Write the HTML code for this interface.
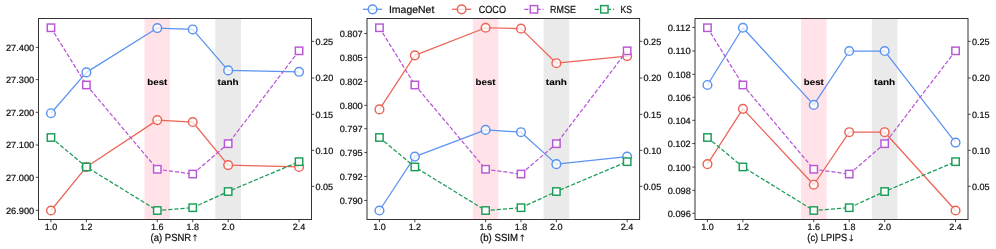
<!DOCTYPE html><html><head><meta charset="utf-8"><style>html,body{margin:0;padding:0;background:#fff;}svg{display:block;will-change:transform;}text{font-family:"Liberation Sans",sans-serif;text-rendering:geometricPrecision;}</style></head><body>
<svg width="996" height="249" viewBox="0 0 996 249">
<rect width="996" height="249" fill="#fff"/>
<rect x="144.48" y="18.5" width="25.6" height="201" fill="#ffe3e8"/>
<rect x="215.36" y="18.5" width="25.6" height="201" fill="#eaeaea"/>
<text x="147.27" y="85.2" font-size="8.71" font-weight="bold" textLength="20.04" lengthAdjust="spacingAndGlyphs" fill="#000" stroke="#000" stroke-width="0.08">best</text>
<text x="217.62" y="85.2" font-size="8.71" font-weight="bold" textLength="21.05" lengthAdjust="spacingAndGlyphs" fill="#000" stroke="#000" stroke-width="0.08">tanh</text>
<polyline points="50.95,113.23 86.39,72.39 157.28,28.05 192.72,29.45 228.16,70.39 299.05,71.79" fill="none" stroke="#5b93f0" stroke-width="1.25" stroke-linejoin="round"/>
<circle cx="50.95" cy="113.23" r="4.35" fill="#fff" fill-opacity="0.75" stroke="#5b93f0" stroke-width="1.45"/>
<circle cx="86.39" cy="72.39" r="4.35" fill="#fff" fill-opacity="0.75" stroke="#5b93f0" stroke-width="1.45"/>
<circle cx="157.28" cy="28.05" r="4.35" fill="#fff" fill-opacity="0.75" stroke="#5b93f0" stroke-width="1.45"/>
<circle cx="192.72" cy="29.45" r="4.35" fill="#fff" fill-opacity="0.75" stroke="#5b93f0" stroke-width="1.45"/>
<circle cx="228.16" cy="70.39" r="4.35" fill="#fff" fill-opacity="0.75" stroke="#5b93f0" stroke-width="1.45"/>
<circle cx="299.05" cy="71.79" r="4.35" fill="#fff" fill-opacity="0.75" stroke="#5b93f0" stroke-width="1.45"/>
<polyline points="50.95,210.5 86.39,166.96 157.28,120.12 192.72,122.02 228.16,165.06 299.05,166.96" fill="none" stroke="#ed6457" stroke-width="1.25" stroke-linejoin="round"/>
<circle cx="50.95" cy="210.5" r="4.35" fill="#fff" fill-opacity="0.75" stroke="#ed6457" stroke-width="1.45"/>
<circle cx="86.39" cy="166.96" r="4.35" fill="#fff" fill-opacity="0.75" stroke="#ed6457" stroke-width="1.45"/>
<circle cx="157.28" cy="120.12" r="4.35" fill="#fff" fill-opacity="0.75" stroke="#ed6457" stroke-width="1.45"/>
<circle cx="192.72" cy="122.02" r="4.35" fill="#fff" fill-opacity="0.75" stroke="#ed6457" stroke-width="1.45"/>
<circle cx="228.16" cy="165.06" r="4.35" fill="#fff" fill-opacity="0.75" stroke="#ed6457" stroke-width="1.45"/>
<circle cx="299.05" cy="166.96" r="4.35" fill="#fff" fill-opacity="0.75" stroke="#ed6457" stroke-width="1.45"/>
<polyline points="50.95,27.75 86.39,84.97 157.28,169.26 192.72,174.05 228.16,143.69 299.05,50.82" fill="none" stroke="#b856d6" stroke-width="1.25" stroke-dasharray="4.2 1.9"/>
<rect x="47.25" y="24.05" width="7.4" height="7.4" fill="#fff" fill-opacity="0.92" stroke="#b856d6" stroke-width="1.45"/>
<rect x="82.69" y="81.27" width="7.4" height="7.4" fill="#fff" fill-opacity="0.92" stroke="#b856d6" stroke-width="1.45"/>
<rect x="153.58" y="165.56" width="7.4" height="7.4" fill="#fff" fill-opacity="0.92" stroke="#b856d6" stroke-width="1.45"/>
<rect x="189.02" y="170.35" width="7.4" height="7.4" fill="#fff" fill-opacity="0.92" stroke="#b856d6" stroke-width="1.45"/>
<rect x="224.46" y="139.99" width="7.4" height="7.4" fill="#fff" fill-opacity="0.92" stroke="#b856d6" stroke-width="1.45"/>
<rect x="295.35" y="47.12" width="7.4" height="7.4" fill="#fff" fill-opacity="0.92" stroke="#b856d6" stroke-width="1.45"/>
<polyline points="50.95,137.5 86.39,166.96 157.28,210.5 192.72,207.7 228.16,191.53 299.05,161.67" fill="none" stroke="#1c9d57" stroke-width="1.25" stroke-dasharray="4.2 1.9"/>
<rect x="47.25" y="133.8" width="7.4" height="7.4" fill="#fff" fill-opacity="0.92" stroke="#1c9d57" stroke-width="1.45"/>
<rect x="82.69" y="163.26" width="7.4" height="7.4" fill="#fff" fill-opacity="0.92" stroke="#1c9d57" stroke-width="1.45"/>
<rect x="153.58" y="206.8" width="7.4" height="7.4" fill="#fff" fill-opacity="0.92" stroke="#1c9d57" stroke-width="1.45"/>
<rect x="189.02" y="204" width="7.4" height="7.4" fill="#fff" fill-opacity="0.92" stroke="#1c9d57" stroke-width="1.45"/>
<rect x="224.46" y="187.83" width="7.4" height="7.4" fill="#fff" fill-opacity="0.92" stroke="#1c9d57" stroke-width="1.45"/>
<rect x="295.35" y="157.97" width="7.4" height="7.4" fill="#fff" fill-opacity="0.92" stroke="#1c9d57" stroke-width="1.45"/>
<rect x="38.5" y="18.5" width="273" height="201" fill="none" stroke="#333" stroke-width="1"/>
<line x1="35.8" y1="47.34" x2="38.5" y2="47.34" stroke="#333" stroke-width="0.9"/>
<text x="5.93" y="50.79" font-size="9.11" textLength="28.32" lengthAdjust="spacingAndGlyphs" fill="#111" stroke="#111" stroke-width="0.22">27.400</text>
<line x1="35.8" y1="79.6" x2="38.5" y2="79.6" stroke="#333" stroke-width="0.9"/>
<text x="5.93" y="83.05" font-size="9.11" textLength="28.32" lengthAdjust="spacingAndGlyphs" fill="#111" stroke="#111" stroke-width="0.22">27.300</text>
<line x1="35.8" y1="112.34" x2="38.5" y2="112.34" stroke="#333" stroke-width="0.9"/>
<text x="5.93" y="115.79" font-size="9.11" textLength="28.32" lengthAdjust="spacingAndGlyphs" fill="#111" stroke="#111" stroke-width="0.22">27.200</text>
<line x1="35.8" y1="145" x2="38.5" y2="145" stroke="#333" stroke-width="0.9"/>
<text x="5.93" y="148.45" font-size="9.11" textLength="28.32" lengthAdjust="spacingAndGlyphs" fill="#111" stroke="#111" stroke-width="0.22">27.100</text>
<line x1="35.8" y1="177.34" x2="38.5" y2="177.34" stroke="#333" stroke-width="0.9"/>
<text x="5.93" y="180.79" font-size="9.11" textLength="28.32" lengthAdjust="spacingAndGlyphs" fill="#111" stroke="#111" stroke-width="0.22">27.000</text>
<line x1="35.8" y1="210.34" x2="38.5" y2="210.34" stroke="#333" stroke-width="0.9"/>
<text x="5.93" y="213.79" font-size="9.11" textLength="28.32" lengthAdjust="spacingAndGlyphs" fill="#111" stroke="#111" stroke-width="0.22">26.900</text>
<line x1="311.5" y1="41.34" x2="314.2" y2="41.34" stroke="#333" stroke-width="0.9"/>
<text x="315.44" y="44.79" font-size="9.11" textLength="17.64" lengthAdjust="spacingAndGlyphs" fill="#111" stroke="#111" stroke-width="0.22">0.25</text>
<line x1="311.5" y1="78" x2="314.2" y2="78" stroke="#333" stroke-width="0.9"/>
<text x="315.44" y="81.45" font-size="9.11" textLength="17.78" lengthAdjust="spacingAndGlyphs" fill="#111" stroke="#111" stroke-width="0.22">0.20</text>
<line x1="311.5" y1="114.34" x2="314.2" y2="114.34" stroke="#333" stroke-width="0.9"/>
<text x="315.44" y="117.79" font-size="9.11" textLength="17.64" lengthAdjust="spacingAndGlyphs" fill="#111" stroke="#111" stroke-width="0.22">0.15</text>
<line x1="311.5" y1="150.34" x2="314.2" y2="150.34" stroke="#333" stroke-width="0.9"/>
<text x="315.44" y="153.79" font-size="9.11" textLength="17.78" lengthAdjust="spacingAndGlyphs" fill="#111" stroke="#111" stroke-width="0.22">0.10</text>
<line x1="311.5" y1="186.34" x2="314.2" y2="186.34" stroke="#333" stroke-width="0.9"/>
<text x="315.44" y="189.79" font-size="9.11" textLength="17.64" lengthAdjust="spacingAndGlyphs" fill="#111" stroke="#111" stroke-width="0.22">0.05</text>
<line x1="50.95" y1="219.5" x2="50.95" y2="222.2" stroke="#333" stroke-width="0.9"/>
<text x="44.73" y="229.9" font-size="9.11" textLength="12.46" lengthAdjust="spacingAndGlyphs" fill="#111" stroke="#111" stroke-width="0.22">1.0</text>
<line x1="86.39" y1="219.5" x2="86.39" y2="222.2" stroke="#333" stroke-width="0.9"/>
<text x="80.19" y="229.9" font-size="9.11" textLength="12.27" lengthAdjust="spacingAndGlyphs" fill="#111" stroke="#111" stroke-width="0.22">1.2</text>
<line x1="157.28" y1="219.5" x2="157.28" y2="222.2" stroke="#333" stroke-width="0.9"/>
<text x="151.06" y="229.9" font-size="9.11" textLength="12.54" lengthAdjust="spacingAndGlyphs" fill="#111" stroke="#111" stroke-width="0.22">1.6</text>
<line x1="192.72" y1="219.5" x2="192.72" y2="222.2" stroke="#333" stroke-width="0.9"/>
<text x="186.5" y="229.9" font-size="9.11" textLength="12.49" lengthAdjust="spacingAndGlyphs" fill="#111" stroke="#111" stroke-width="0.22">1.8</text>
<line x1="228.16" y1="219.5" x2="228.16" y2="222.2" stroke="#333" stroke-width="0.9"/>
<text x="221.86" y="229.9" font-size="9.11" textLength="12.56" lengthAdjust="spacingAndGlyphs" fill="#111" stroke="#111" stroke-width="0.22">2.0</text>
<line x1="299.05" y1="219.5" x2="299.05" y2="222.2" stroke="#333" stroke-width="0.9"/>
<text x="292.75" y="229.9" font-size="9.11" textLength="12.55" lengthAdjust="spacingAndGlyphs" fill="#111" stroke="#111" stroke-width="0.22">2.4</text>
<text x="150.59" y="241.3" font-size="10.27" textLength="40.61" lengthAdjust="spacingAndGlyphs" fill="#111" stroke="#111" stroke-width="0.22">(a) PSNR</text>
<polygon points="194.81,234.49 195.22,234.49 197,236.27 196.46,236.81 195.39,235.75 195.39,241.3 194.63,241.3 194.63,235.75 193.57,236.81 193.03,236.27" fill="#111"/>
<rect x="472.81" y="18.5" width="25.6" height="201" fill="#ffe3e8"/>
<rect x="543.58" y="18.5" width="25.6" height="201" fill="#eaeaea"/>
<text x="475.59" y="85.2" font-size="8.71" font-weight="bold" textLength="20.04" lengthAdjust="spacingAndGlyphs" fill="#000" stroke="#000" stroke-width="0.08">best</text>
<text x="545.83" y="85.2" font-size="8.71" font-weight="bold" textLength="21.05" lengthAdjust="spacingAndGlyphs" fill="#000" stroke="#000" stroke-width="0.08">tanh</text>
<polyline points="379.45,210.5 414.84,156.57 485.61,129.91 520.99,132.21 556.38,164.16 627.15,156.57" fill="none" stroke="#5b93f0" stroke-width="1.25" stroke-linejoin="round"/>
<circle cx="379.45" cy="210.5" r="4.35" fill="#fff" fill-opacity="0.75" stroke="#5b93f0" stroke-width="1.45"/>
<circle cx="414.84" cy="156.57" r="4.35" fill="#fff" fill-opacity="0.75" stroke="#5b93f0" stroke-width="1.45"/>
<circle cx="485.61" cy="129.91" r="4.35" fill="#fff" fill-opacity="0.75" stroke="#5b93f0" stroke-width="1.45"/>
<circle cx="520.99" cy="132.21" r="4.35" fill="#fff" fill-opacity="0.75" stroke="#5b93f0" stroke-width="1.45"/>
<circle cx="556.38" cy="164.16" r="4.35" fill="#fff" fill-opacity="0.75" stroke="#5b93f0" stroke-width="1.45"/>
<circle cx="627.15" cy="156.57" r="4.35" fill="#fff" fill-opacity="0.75" stroke="#5b93f0" stroke-width="1.45"/>
<polyline points="379.45,109.44 414.84,55.31 485.61,27.75 520.99,28.65 556.38,63.2 627.15,56.11" fill="none" stroke="#ed6457" stroke-width="1.25" stroke-linejoin="round"/>
<circle cx="379.45" cy="109.44" r="4.35" fill="#fff" fill-opacity="0.75" stroke="#ed6457" stroke-width="1.45"/>
<circle cx="414.84" cy="55.31" r="4.35" fill="#fff" fill-opacity="0.75" stroke="#ed6457" stroke-width="1.45"/>
<circle cx="485.61" cy="27.75" r="4.35" fill="#fff" fill-opacity="0.75" stroke="#ed6457" stroke-width="1.45"/>
<circle cx="520.99" cy="28.65" r="4.35" fill="#fff" fill-opacity="0.75" stroke="#ed6457" stroke-width="1.45"/>
<circle cx="556.38" cy="63.2" r="4.35" fill="#fff" fill-opacity="0.75" stroke="#ed6457" stroke-width="1.45"/>
<circle cx="627.15" cy="56.11" r="4.35" fill="#fff" fill-opacity="0.75" stroke="#ed6457" stroke-width="1.45"/>
<polyline points="379.45,27.75 414.84,84.97 485.61,169.26 520.99,174.05 556.38,143.69 627.15,50.82" fill="none" stroke="#b856d6" stroke-width="1.25" stroke-dasharray="4.2 1.9"/>
<rect x="375.75" y="24.05" width="7.4" height="7.4" fill="#fff" fill-opacity="0.92" stroke="#b856d6" stroke-width="1.45"/>
<rect x="411.14" y="81.27" width="7.4" height="7.4" fill="#fff" fill-opacity="0.92" stroke="#b856d6" stroke-width="1.45"/>
<rect x="481.91" y="165.56" width="7.4" height="7.4" fill="#fff" fill-opacity="0.92" stroke="#b856d6" stroke-width="1.45"/>
<rect x="517.29" y="170.35" width="7.4" height="7.4" fill="#fff" fill-opacity="0.92" stroke="#b856d6" stroke-width="1.45"/>
<rect x="552.68" y="139.99" width="7.4" height="7.4" fill="#fff" fill-opacity="0.92" stroke="#b856d6" stroke-width="1.45"/>
<rect x="623.45" y="47.12" width="7.4" height="7.4" fill="#fff" fill-opacity="0.92" stroke="#b856d6" stroke-width="1.45"/>
<polyline points="379.45,137.5 414.84,166.96 485.61,210.5 520.99,207.7 556.38,191.53 627.15,161.67" fill="none" stroke="#1c9d57" stroke-width="1.25" stroke-dasharray="4.2 1.9"/>
<rect x="375.75" y="133.8" width="7.4" height="7.4" fill="#fff" fill-opacity="0.92" stroke="#1c9d57" stroke-width="1.45"/>
<rect x="411.14" y="163.26" width="7.4" height="7.4" fill="#fff" fill-opacity="0.92" stroke="#1c9d57" stroke-width="1.45"/>
<rect x="481.91" y="206.8" width="7.4" height="7.4" fill="#fff" fill-opacity="0.92" stroke="#1c9d57" stroke-width="1.45"/>
<rect x="517.29" y="204" width="7.4" height="7.4" fill="#fff" fill-opacity="0.92" stroke="#1c9d57" stroke-width="1.45"/>
<rect x="552.68" y="187.83" width="7.4" height="7.4" fill="#fff" fill-opacity="0.92" stroke="#1c9d57" stroke-width="1.45"/>
<rect x="623.45" y="157.97" width="7.4" height="7.4" fill="#fff" fill-opacity="0.92" stroke="#1c9d57" stroke-width="1.45"/>
<rect x="367" y="18.5" width="272.6" height="201" fill="none" stroke="#333" stroke-width="1"/>
<line x1="364.3" y1="33.47" x2="367" y2="33.47" stroke="#333" stroke-width="0.9"/>
<text x="339.71" y="36.92" font-size="9.11" textLength="22.99" lengthAdjust="spacingAndGlyphs" fill="#111" stroke="#111" stroke-width="0.22">0.807</text>
<line x1="364.3" y1="57.44" x2="367" y2="57.44" stroke="#333" stroke-width="0.9"/>
<text x="339.71" y="60.89" font-size="9.11" textLength="22.89" lengthAdjust="spacingAndGlyphs" fill="#111" stroke="#111" stroke-width="0.22">0.805</text>
<line x1="364.3" y1="81.44" x2="367" y2="81.44" stroke="#333" stroke-width="0.9"/>
<text x="339.71" y="84.89" font-size="9.11" textLength="22.86" lengthAdjust="spacingAndGlyphs" fill="#111" stroke="#111" stroke-width="0.22">0.802</text>
<line x1="364.3" y1="105.34" x2="367" y2="105.34" stroke="#333" stroke-width="0.9"/>
<text x="339.71" y="108.79" font-size="9.11" textLength="23.04" lengthAdjust="spacingAndGlyphs" fill="#111" stroke="#111" stroke-width="0.22">0.800</text>
<line x1="364.3" y1="128.7" x2="367" y2="128.7" stroke="#333" stroke-width="0.9"/>
<text x="339.71" y="132.15" font-size="9.11" textLength="22.99" lengthAdjust="spacingAndGlyphs" fill="#111" stroke="#111" stroke-width="0.22">0.797</text>
<line x1="364.3" y1="152.47" x2="367" y2="152.47" stroke="#333" stroke-width="0.9"/>
<text x="339.71" y="155.92" font-size="9.11" textLength="22.89" lengthAdjust="spacingAndGlyphs" fill="#111" stroke="#111" stroke-width="0.22">0.795</text>
<line x1="364.3" y1="176.44" x2="367" y2="176.44" stroke="#333" stroke-width="0.9"/>
<text x="339.71" y="179.89" font-size="9.11" textLength="22.86" lengthAdjust="spacingAndGlyphs" fill="#111" stroke="#111" stroke-width="0.22">0.792</text>
<line x1="364.3" y1="200.44" x2="367" y2="200.44" stroke="#333" stroke-width="0.9"/>
<text x="339.71" y="203.89" font-size="9.11" textLength="23.04" lengthAdjust="spacingAndGlyphs" fill="#111" stroke="#111" stroke-width="0.22">0.790</text>
<line x1="639.6" y1="41.34" x2="642.3" y2="41.34" stroke="#333" stroke-width="0.9"/>
<text x="643.54" y="44.79" font-size="9.11" textLength="17.64" lengthAdjust="spacingAndGlyphs" fill="#111" stroke="#111" stroke-width="0.22">0.25</text>
<line x1="639.6" y1="78" x2="642.3" y2="78" stroke="#333" stroke-width="0.9"/>
<text x="643.54" y="81.45" font-size="9.11" textLength="17.78" lengthAdjust="spacingAndGlyphs" fill="#111" stroke="#111" stroke-width="0.22">0.20</text>
<line x1="639.6" y1="114.34" x2="642.3" y2="114.34" stroke="#333" stroke-width="0.9"/>
<text x="643.54" y="117.79" font-size="9.11" textLength="17.64" lengthAdjust="spacingAndGlyphs" fill="#111" stroke="#111" stroke-width="0.22">0.15</text>
<line x1="639.6" y1="150.34" x2="642.3" y2="150.34" stroke="#333" stroke-width="0.9"/>
<text x="643.54" y="153.79" font-size="9.11" textLength="17.78" lengthAdjust="spacingAndGlyphs" fill="#111" stroke="#111" stroke-width="0.22">0.10</text>
<line x1="639.6" y1="186.34" x2="642.3" y2="186.34" stroke="#333" stroke-width="0.9"/>
<text x="643.54" y="189.79" font-size="9.11" textLength="17.64" lengthAdjust="spacingAndGlyphs" fill="#111" stroke="#111" stroke-width="0.22">0.05</text>
<line x1="379.45" y1="219.5" x2="379.45" y2="222.2" stroke="#333" stroke-width="0.9"/>
<text x="373.23" y="229.9" font-size="9.11" textLength="12.46" lengthAdjust="spacingAndGlyphs" fill="#111" stroke="#111" stroke-width="0.22">1.0</text>
<line x1="414.84" y1="219.5" x2="414.84" y2="222.2" stroke="#333" stroke-width="0.9"/>
<text x="408.63" y="229.9" font-size="9.11" textLength="12.27" lengthAdjust="spacingAndGlyphs" fill="#111" stroke="#111" stroke-width="0.22">1.2</text>
<line x1="485.61" y1="219.5" x2="485.61" y2="222.2" stroke="#333" stroke-width="0.9"/>
<text x="479.39" y="229.9" font-size="9.11" textLength="12.54" lengthAdjust="spacingAndGlyphs" fill="#111" stroke="#111" stroke-width="0.22">1.6</text>
<line x1="520.99" y1="219.5" x2="520.99" y2="222.2" stroke="#333" stroke-width="0.9"/>
<text x="514.78" y="229.9" font-size="9.11" textLength="12.49" lengthAdjust="spacingAndGlyphs" fill="#111" stroke="#111" stroke-width="0.22">1.8</text>
<line x1="556.38" y1="219.5" x2="556.38" y2="222.2" stroke="#333" stroke-width="0.9"/>
<text x="550.07" y="229.9" font-size="9.11" textLength="12.56" lengthAdjust="spacingAndGlyphs" fill="#111" stroke="#111" stroke-width="0.22">2.0</text>
<line x1="627.15" y1="219.5" x2="627.15" y2="222.2" stroke="#333" stroke-width="0.9"/>
<text x="620.85" y="229.9" font-size="9.11" textLength="12.55" lengthAdjust="spacingAndGlyphs" fill="#111" stroke="#111" stroke-width="0.22">2.4</text>
<text x="479.95" y="241.3" font-size="10.27" textLength="38.17" lengthAdjust="spacingAndGlyphs" fill="#111" stroke="#111" stroke-width="0.22">(b) SSIM</text>
<polygon points="522.03,234.49 522.44,234.49 524.22,236.27 523.68,236.81 522.62,235.75 522.62,241.3 521.85,241.3 521.85,235.75 520.79,236.81 520.25,236.27" fill="#111"/>
<rect x="800.98" y="18.5" width="25.6" height="201" fill="#ffe3e8"/>
<rect x="871.86" y="18.5" width="25.6" height="201" fill="#eaeaea"/>
<text x="803.77" y="85.2" font-size="8.71" font-weight="bold" textLength="20.04" lengthAdjust="spacingAndGlyphs" fill="#000" stroke="#000" stroke-width="0.08">best</text>
<text x="874.12" y="85.2" font-size="8.71" font-weight="bold" textLength="21.05" lengthAdjust="spacingAndGlyphs" fill="#000" stroke="#000" stroke-width="0.08">tanh</text>
<polyline points="707.45,84.97 742.89,27.75 813.78,104.94 849.22,51.02 884.66,51.02 955.55,142.59" fill="none" stroke="#5b93f0" stroke-width="1.25" stroke-linejoin="round"/>
<circle cx="707.45" cy="84.97" r="4.35" fill="#fff" fill-opacity="0.75" stroke="#5b93f0" stroke-width="1.45"/>
<circle cx="742.89" cy="27.75" r="4.35" fill="#fff" fill-opacity="0.75" stroke="#5b93f0" stroke-width="1.45"/>
<circle cx="813.78" cy="104.94" r="4.35" fill="#fff" fill-opacity="0.75" stroke="#5b93f0" stroke-width="1.45"/>
<circle cx="849.22" cy="51.02" r="4.35" fill="#fff" fill-opacity="0.75" stroke="#5b93f0" stroke-width="1.45"/>
<circle cx="884.66" cy="51.02" r="4.35" fill="#fff" fill-opacity="0.75" stroke="#5b93f0" stroke-width="1.45"/>
<circle cx="955.55" cy="142.59" r="4.35" fill="#fff" fill-opacity="0.75" stroke="#5b93f0" stroke-width="1.45"/>
<polyline points="707.45,164.16 742.89,108.84 813.78,184.74 849.22,132.21 884.66,132.21 955.55,210.5" fill="none" stroke="#ed6457" stroke-width="1.25" stroke-linejoin="round"/>
<circle cx="707.45" cy="164.16" r="4.35" fill="#fff" fill-opacity="0.75" stroke="#ed6457" stroke-width="1.45"/>
<circle cx="742.89" cy="108.84" r="4.35" fill="#fff" fill-opacity="0.75" stroke="#ed6457" stroke-width="1.45"/>
<circle cx="813.78" cy="184.74" r="4.35" fill="#fff" fill-opacity="0.75" stroke="#ed6457" stroke-width="1.45"/>
<circle cx="849.22" cy="132.21" r="4.35" fill="#fff" fill-opacity="0.75" stroke="#ed6457" stroke-width="1.45"/>
<circle cx="884.66" cy="132.21" r="4.35" fill="#fff" fill-opacity="0.75" stroke="#ed6457" stroke-width="1.45"/>
<circle cx="955.55" cy="210.5" r="4.35" fill="#fff" fill-opacity="0.75" stroke="#ed6457" stroke-width="1.45"/>
<polyline points="707.45,27.75 742.89,84.97 813.78,169.26 849.22,174.05 884.66,143.69 955.55,50.82" fill="none" stroke="#b856d6" stroke-width="1.25" stroke-dasharray="4.2 1.9"/>
<rect x="703.75" y="24.05" width="7.4" height="7.4" fill="#fff" fill-opacity="0.92" stroke="#b856d6" stroke-width="1.45"/>
<rect x="739.19" y="81.27" width="7.4" height="7.4" fill="#fff" fill-opacity="0.92" stroke="#b856d6" stroke-width="1.45"/>
<rect x="810.08" y="165.56" width="7.4" height="7.4" fill="#fff" fill-opacity="0.92" stroke="#b856d6" stroke-width="1.45"/>
<rect x="845.52" y="170.35" width="7.4" height="7.4" fill="#fff" fill-opacity="0.92" stroke="#b856d6" stroke-width="1.45"/>
<rect x="880.96" y="139.99" width="7.4" height="7.4" fill="#fff" fill-opacity="0.92" stroke="#b856d6" stroke-width="1.45"/>
<rect x="951.85" y="47.12" width="7.4" height="7.4" fill="#fff" fill-opacity="0.92" stroke="#b856d6" stroke-width="1.45"/>
<polyline points="707.45,137.5 742.89,166.96 813.78,210.5 849.22,207.7 884.66,191.53 955.55,161.67" fill="none" stroke="#1c9d57" stroke-width="1.25" stroke-dasharray="4.2 1.9"/>
<rect x="703.75" y="133.8" width="7.4" height="7.4" fill="#fff" fill-opacity="0.92" stroke="#1c9d57" stroke-width="1.45"/>
<rect x="739.19" y="163.26" width="7.4" height="7.4" fill="#fff" fill-opacity="0.92" stroke="#1c9d57" stroke-width="1.45"/>
<rect x="810.08" y="206.8" width="7.4" height="7.4" fill="#fff" fill-opacity="0.92" stroke="#1c9d57" stroke-width="1.45"/>
<rect x="845.52" y="204" width="7.4" height="7.4" fill="#fff" fill-opacity="0.92" stroke="#1c9d57" stroke-width="1.45"/>
<rect x="880.96" y="187.83" width="7.4" height="7.4" fill="#fff" fill-opacity="0.92" stroke="#1c9d57" stroke-width="1.45"/>
<rect x="951.85" y="157.97" width="7.4" height="7.4" fill="#fff" fill-opacity="0.92" stroke="#1c9d57" stroke-width="1.45"/>
<rect x="695" y="18.5" width="273" height="201" fill="none" stroke="#333" stroke-width="1"/>
<line x1="692.3" y1="27.38" x2="695" y2="27.38" stroke="#333" stroke-width="0.9"/>
<text x="667.7" y="30.83" font-size="9.11" textLength="22.89" lengthAdjust="spacingAndGlyphs" fill="#111" stroke="#111" stroke-width="0.22">0.112</text>
<line x1="692.3" y1="51" x2="695" y2="51" stroke="#333" stroke-width="0.9"/>
<text x="667.7" y="54.45" font-size="9.11" textLength="23.07" lengthAdjust="spacingAndGlyphs" fill="#111" stroke="#111" stroke-width="0.22">0.110</text>
<line x1="692.3" y1="74.3" x2="695" y2="74.3" stroke="#333" stroke-width="0.9"/>
<text x="667.71" y="77.75" font-size="9.11" textLength="23.06" lengthAdjust="spacingAndGlyphs" fill="#111" stroke="#111" stroke-width="0.22">0.108</text>
<line x1="692.3" y1="97.3" x2="695" y2="97.3" stroke="#333" stroke-width="0.9"/>
<text x="667.71" y="100.75" font-size="9.11" textLength="23.11" lengthAdjust="spacingAndGlyphs" fill="#111" stroke="#111" stroke-width="0.22">0.106</text>
<line x1="692.3" y1="120.34" x2="695" y2="120.34" stroke="#333" stroke-width="0.9"/>
<text x="667.71" y="123.79" font-size="9.11" textLength="23.03" lengthAdjust="spacingAndGlyphs" fill="#111" stroke="#111" stroke-width="0.22">0.104</text>
<line x1="692.3" y1="143.54" x2="695" y2="143.54" stroke="#333" stroke-width="0.9"/>
<text x="667.71" y="146.99" font-size="9.11" textLength="22.86" lengthAdjust="spacingAndGlyphs" fill="#111" stroke="#111" stroke-width="0.22">0.102</text>
<line x1="692.3" y1="167.1" x2="695" y2="167.1" stroke="#333" stroke-width="0.9"/>
<text x="667.71" y="170.55" font-size="9.11" textLength="23.04" lengthAdjust="spacingAndGlyphs" fill="#111" stroke="#111" stroke-width="0.22">0.100</text>
<line x1="692.3" y1="190.3" x2="695" y2="190.3" stroke="#333" stroke-width="0.9"/>
<text x="667.71" y="193.75" font-size="9.11" textLength="23.06" lengthAdjust="spacingAndGlyphs" fill="#111" stroke="#111" stroke-width="0.22">0.098</text>
<line x1="692.3" y1="213.26" x2="695" y2="213.26" stroke="#333" stroke-width="0.9"/>
<text x="667.71" y="216.71" font-size="9.11" textLength="23.11" lengthAdjust="spacingAndGlyphs" fill="#111" stroke="#111" stroke-width="0.22">0.096</text>
<line x1="968" y1="41.34" x2="970.7" y2="41.34" stroke="#333" stroke-width="0.9"/>
<text x="971.94" y="44.79" font-size="9.11" textLength="17.64" lengthAdjust="spacingAndGlyphs" fill="#111" stroke="#111" stroke-width="0.22">0.25</text>
<line x1="968" y1="78" x2="970.7" y2="78" stroke="#333" stroke-width="0.9"/>
<text x="971.94" y="81.45" font-size="9.11" textLength="17.78" lengthAdjust="spacingAndGlyphs" fill="#111" stroke="#111" stroke-width="0.22">0.20</text>
<line x1="968" y1="114.34" x2="970.7" y2="114.34" stroke="#333" stroke-width="0.9"/>
<text x="971.94" y="117.79" font-size="9.11" textLength="17.64" lengthAdjust="spacingAndGlyphs" fill="#111" stroke="#111" stroke-width="0.22">0.15</text>
<line x1="968" y1="150.34" x2="970.7" y2="150.34" stroke="#333" stroke-width="0.9"/>
<text x="971.94" y="153.79" font-size="9.11" textLength="17.78" lengthAdjust="spacingAndGlyphs" fill="#111" stroke="#111" stroke-width="0.22">0.10</text>
<line x1="968" y1="186.34" x2="970.7" y2="186.34" stroke="#333" stroke-width="0.9"/>
<text x="971.94" y="189.79" font-size="9.11" textLength="17.64" lengthAdjust="spacingAndGlyphs" fill="#111" stroke="#111" stroke-width="0.22">0.05</text>
<line x1="707.45" y1="219.5" x2="707.45" y2="222.2" stroke="#333" stroke-width="0.9"/>
<text x="701.23" y="229.9" font-size="9.11" textLength="12.46" lengthAdjust="spacingAndGlyphs" fill="#111" stroke="#111" stroke-width="0.22">1.0</text>
<line x1="742.89" y1="219.5" x2="742.89" y2="222.2" stroke="#333" stroke-width="0.9"/>
<text x="736.69" y="229.9" font-size="9.11" textLength="12.27" lengthAdjust="spacingAndGlyphs" fill="#111" stroke="#111" stroke-width="0.22">1.2</text>
<line x1="813.78" y1="219.5" x2="813.78" y2="222.2" stroke="#333" stroke-width="0.9"/>
<text x="807.56" y="229.9" font-size="9.11" textLength="12.54" lengthAdjust="spacingAndGlyphs" fill="#111" stroke="#111" stroke-width="0.22">1.6</text>
<line x1="849.22" y1="219.5" x2="849.22" y2="222.2" stroke="#333" stroke-width="0.9"/>
<text x="843" y="229.9" font-size="9.11" textLength="12.49" lengthAdjust="spacingAndGlyphs" fill="#111" stroke="#111" stroke-width="0.22">1.8</text>
<line x1="884.66" y1="219.5" x2="884.66" y2="222.2" stroke="#333" stroke-width="0.9"/>
<text x="878.36" y="229.9" font-size="9.11" textLength="12.56" lengthAdjust="spacingAndGlyphs" fill="#111" stroke="#111" stroke-width="0.22">2.0</text>
<line x1="955.55" y1="219.5" x2="955.55" y2="222.2" stroke="#333" stroke-width="0.9"/>
<text x="949.25" y="229.9" font-size="9.11" textLength="12.55" lengthAdjust="spacingAndGlyphs" fill="#111" stroke="#111" stroke-width="0.22">2.4</text>
<text x="807.34" y="241.3" font-size="10.27" textLength="39.85" lengthAdjust="spacingAndGlyphs" fill="#111" stroke="#111" stroke-width="0.22">(c) LPIPS</text>
<polygon points="851.07,241.3 851.48,241.3 853.26,239.52 852.72,238.98 851.66,240.04 851.66,234.49 850.89,234.49 850.89,240.04 849.83,238.98 849.29,239.52" fill="#111"/>
<line x1="362.9" y1="9.3" x2="382.2" y2="9.3" stroke="#5b93f0" stroke-width="1.25"/>
<circle cx="372.55" cy="9.3" r="4.35" fill="#fff" fill-opacity="0.75" stroke="#5b93f0" stroke-width="1.45"/>
<text x="388.94" y="12.9" font-size="10.33" textLength="45.39" lengthAdjust="spacingAndGlyphs" fill="#111" stroke="#111" stroke-width="0.22">ImageNet</text>
<line x1="452" y1="9.3" x2="471.3" y2="9.3" stroke="#ed6457" stroke-width="1.25"/>
<circle cx="461.65" cy="9.3" r="4.35" fill="#fff" fill-opacity="0.75" stroke="#ed6457" stroke-width="1.45"/>
<text x="478.65" y="12.9" font-size="10.33" textLength="27.39" lengthAdjust="spacingAndGlyphs" fill="#111" stroke="#111" stroke-width="0.22">COCO</text>
<line x1="524.3" y1="9.3" x2="543.6" y2="9.3" stroke="#b856d6" stroke-width="1.25" stroke-dasharray="4.2 1.9"/>
<rect x="530.25" y="5.6" width="7.4" height="7.4" fill="#fff" fill-opacity="0.92" stroke="#b856d6" stroke-width="1.45"/>
<text x="550.07" y="12.9" font-size="10.33" textLength="25.78" lengthAdjust="spacingAndGlyphs" fill="#111" stroke="#111" stroke-width="0.22">RMSE</text>
<line x1="594.7" y1="9.3" x2="614" y2="9.3" stroke="#1c9d57" stroke-width="1.25" stroke-dasharray="4.2 1.9"/>
<rect x="600.65" y="5.6" width="7.4" height="7.4" fill="#fff" fill-opacity="0.92" stroke="#1c9d57" stroke-width="1.45"/>
<text x="620.4" y="12.9" font-size="10.33" textLength="11.53" lengthAdjust="spacingAndGlyphs" fill="#111" stroke="#111" stroke-width="0.22">KS</text>
</svg></body></html>
